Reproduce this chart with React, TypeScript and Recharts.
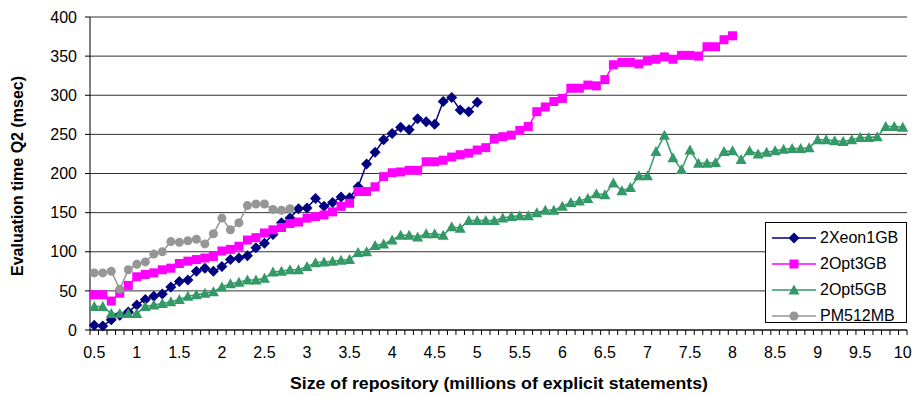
import { LineChart, Line, XAxis, YAxis, CartesianGrid, Label } from "recharts";

// repository size, millions of explicit statements (one category per 0.1M)
const sizes = [
  0.5, 0.6, 0.7, 0.8, 0.9, 1, 1.1, 1.2, 1.3, 1.4, 1.5, 1.6, 1.7, 1.8, 1.9, 2,
  2.1, 2.2, 2.3, 2.4, 2.5, 2.6, 2.7, 2.8, 2.9, 3, 3.1, 3.2, 3.3, 3.4, 3.5, 3.6,
  3.7, 3.8, 3.9, 4, 4.1, 4.2, 4.3, 4.4, 4.5, 4.6, 4.7, 4.8, 4.9, 5, 5.1, 5.2,
  5.3, 5.4, 5.5, 5.6, 5.7, 5.8, 5.9, 6, 6.1, 6.2, 6.3, 6.4, 6.5, 6.6, 6.7, 6.8,
  6.9, 7, 7.1, 7.2, 7.3, 7.4, 7.5, 7.6, 7.7, 7.8, 7.9, 8, 8.1, 8.2, 8.3, 8.4,
  8.5, 8.6, 8.7, 8.8, 8.9, 9, 9.1, 9.2, 9.3, 9.4, 9.5, 9.6, 9.7, 9.8, 9.9, 10,
];

// evaluation time of Q2 in msec
const xeon1gb = [
  6, 5, 13, 19, 23, 32, 39, 43, 46, 55, 62, 64, 75, 79, 75, 81, 90, 92, 95, 105,
  111, 122, 137, 143, 155, 156, 168, 158, 163, 170, 169, 183, 212, 227, 243,
  251, 259, 256, 270, 266, 263, 292, 297, 281, 279, 291,
];
const opt3gb = [
  45, 45, 37, 47, 57, 68, 71, 73, 77, 79, 85, 88, 90, 92, 94, 101, 103, 107,
  115, 118, 124, 128, 131, 136, 138, 143, 145, 147, 151, 158, 162, 177, 177,
  183, 196, 201, 202, 204, 204, 215, 215, 217, 221, 224, 226, 230, 233, 244,
  247, 249, 255, 260, 279, 285, 292, 296, 309, 309, 313, 312, 320, 339, 342,
  342, 340, 344, 346, 349, 346, 351, 351, 350, 362, 362, 371, 376,
];
const opt5gb = [
  30, 30, 21, 21, 21, 21, 30, 32, 34, 36, 39, 43, 45, 47, 49, 55, 59, 61, 64,
  64, 66, 74, 75, 77, 77, 81, 86, 87, 88, 89, 90, 99, 100, 108, 110, 115, 121,
  121, 119, 123, 123, 121, 132, 130, 140, 140, 140, 140, 143, 145, 146, 146,
  150, 153, 153, 158, 163, 165, 168, 174, 173, 188, 178, 182, 197, 197, 228,
  249, 220, 205, 230, 213, 213, 214, 228, 229, 218, 229, 225, 227, 229, 231,
  232, 232, 233, 243, 243, 242, 241, 243, 246, 246, 247, 260, 260, 259,
];
const pm512mb = [
  73, 73, 75, 52, 77, 84, 87, 97, 100, 113, 112, 114, 116, 110, 123, 143, 128,
  137, 159, 161, 161, 154, 153, 155,
];

const yTicks = [0, 50, 100, 150, 200, 250, 300, 350, 400];

const data = sizes.map((size, i) => ({
  size,
  xeon1gb: xeon1gb[i],
  opt3gb: opt3gb[i],
  opt5gb: opt5gb[i],
  pm512mb: pm512mb[i],
}));

const FONT = "'Liberation Sans', Arial, sans-serif";
const NAVY = "#000080";
const MAGENTA = "#FF00FF";
const GREEN = "#339966";
const GRAY = "#969696";
const HALF_STEP = 4.25;

type Shape = "diamond" | "square" | "triangle" | "circle";

function marker(shape: Shape, cx: number, cy: number, color: string, key?: any) {
  switch (shape) {
    case "diamond": {
      const r = 5.5;
      return (
        <polygon
          key={key}
          points={`${cx},${cy - r} ${cx + r},${cy} ${cx},${cy + r} ${cx - r},${cy}`}
          fill={color}
        />
      );
    }
    case "square":
      return <rect key={key} x={cx - 4.5} y={cy - 4.5} width={9} height={9} fill={color} />;
    case "triangle":
      return (
        <polygon
          key={key}
          points={`${cx},${cy - 5.5} ${cx + 5.5},${cy + 4.5} ${cx - 5.5},${cy + 4.5}`}
          fill={color}
        />
      );
    default:
      return <circle key={key} cx={cx} cy={cy} r={4.5} fill={color} />;
  }
}

const dotFor = (shape: Shape, color: string) => (p: any) => {
  if (p.value == null || p.cy == null || p.cx == null) return <g key={p.key} />;
  return marker(shape, p.cx, p.cy, color, p.key);
};

// category ticks sit between categories, labels under every fifth one
const renderXTick = (p: any) => {
  const { x, y, index, payload } = p;
  const last = index === sizes.length - 1;
  return (
    <g key={`xt-${index}`}>
      <line x1={x - HALF_STEP} x2={x - HALF_STEP} y1={y} y2={y + 5} stroke="#000" />
      {last && <line x1={x + HALF_STEP} x2={x + HALF_STEP} y1={y} y2={y + 5} stroke="#000" />}
      {index % 5 === 0 && (
        <text x={x} y={y + 28} textAnchor="middle" fontSize={16} fontFamily={FONT} fill="#000">
          {String(payload.value)}
        </text>
      )}
    </g>
  );
};

const series = [
  { key: "xeon1gb", name: "2Xeon1GB", color: NAVY, shape: "diamond" as Shape },
  { key: "opt3gb", name: "2Opt3GB", color: MAGENTA, shape: "square" as Shape },
  { key: "opt5gb", name: "2Opt5GB", color: GREEN, shape: "triangle" as Shape },
  { key: "pm512mb", name: "PM512MB", color: GRAY, shape: "circle" as Shape },
];

function LegendBox() {
  return (
    <div
      style={{
        position: "absolute",
        left: 765,
        top: 222,
        width: 142,
        height: 101,
        boxSizing: "border-box",
        border: "1px solid #000",
        background: "#fff",
        paddingTop: 2,
        fontFamily: FONT,
        fontSize: 16,
      }}
    >
      {series.map((s) => (
        <div key={s.key} style={{ display: "flex", alignItems: "center", height: 26 }}>
          <svg width={54} height={26}>
            <line x1={6} x2={50} y1={13} y2={13} stroke={s.color} strokeWidth={1.5} />
            {marker(s.shape, 28, 13, s.color)}
          </svg>
          <span style={{ color: "#000", lineHeight: "26px" }}>{s.name}</span>
        </div>
      ))}
    </div>
  );
}

export default function App() {
  return (
    <div style={{ position: "absolute", left: 0, top: 0, width: 914, height: 396, background: "#fff" }}>
      <LineChart
        width={914}
        height={396}
        data={data}
        margin={{ top: 17, right: 7, left: 0, bottom: 36 }}
      >
        <CartesianGrid vertical={false} stroke="#333" />
        <XAxis
          dataKey="size"
          type="category"
          interval={0}
          height={30}
          padding={{ left: HALF_STEP, right: HALF_STEP }}
          axisLine={{ stroke: "#000" }}
          tickLine={false}
          tickSize={0}
          tickMargin={0}
          tick={renderXTick}
        >
          <Label
            content={() => (
              <text
                x={499}
                y={389}
                textAnchor="middle"
                fontSize={17}
                fontWeight="bold"
                fontFamily={FONT}
                fill="#000"
                textLength={418}
                lengthAdjust="spacingAndGlyphs"
              >
                Size of repository (millions of explicit statements)
              </text>
            )}
          />
        </XAxis>
        <YAxis
          domain={[0, 400]}
          ticks={yTicks}
          interval={0}
          width={90}
          tickSize={5}
          tickMargin={8}
          axisLine={{ stroke: "#000" }}
          tickLine={{ stroke: "#000" }}
          tick={{ fill: "#000", fontSize: 16, fontFamily: FONT }}
        >
          <Label
            content={() => (
              <text
                transform="translate(17,176) rotate(-90)"
                textAnchor="middle"
                dominantBaseline="central"
                fontSize={16}
                fontWeight="bold"
                fontFamily={FONT}
                fill="#000"
              >
                Evaluation time Q2 (msec)
              </text>
            )}
          />
        </YAxis>
        {series.map((s) => (
          <Line
            key={s.key}
            type="linear"
            dataKey={s.key}
            name={s.name}
            stroke={s.color}
            strokeWidth={1.5}
            dot={dotFor(s.shape, s.color)}
            activeDot={false}
            isAnimationActive={false}
          />
        ))}
      </LineChart>
      <LegendBox />
    </div>
  );
}
